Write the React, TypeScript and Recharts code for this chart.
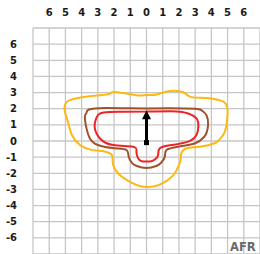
import { ComposedChart, Line, Scatter, XAxis, YAxis, CartesianGrid } from 'recharts';

type Pt = { x: number; y: number };

const TICKS = [-7, -6, -5, -4, -3, -2, -1, 0, 1, 2, 3, 4, 5, 6, 7];

// outer contour (yellow)
const outerCurve: Pt[] = [
  { x: 0.2, y: 2.85 }, { x: 0.7, y: 2.9 }, { x: 1.44, y: 3.1 }, { x: 2.26, y: 3.02 },
  { x: 2.67, y: 2.75 }, { x: 3.3, y: 2.68 }, { x: 4.0, y: 2.63 }, { x: 4.6, y: 2.5 },
  { x: 4.9, y: 2.3 }, { x: 5.0, y: 1.9 }, { x: 4.95, y: 1.1 }, { x: 4.75, y: 0.4 },
  { x: 4.45, y: 0.05 }, { x: 4.2, y: -0.14 }, { x: 3.3, y: -0.35 }, { x: 2.5, y: -0.45 },
  { x: 2.15, y: -0.75 }, { x: 2.1, y: -1.2 }, { x: 1.95, y: -1.6 }, { x: 1.75, y: -2.0 },
  { x: 1.4, y: -2.35 }, { x: 1.03, y: -2.6 }, { x: 0.5, y: -2.8 }, { x: -0.3, y: -2.82 },
  { x: -0.9, y: -2.6 }, { x: -1.4, y: -2.3 }, { x: -1.8, y: -1.95 }, { x: -2.05, y: -1.5 },
  { x: -2.1, y: -1.0 }, { x: -2.2, y: -0.8 }, { x: -2.6, y: -0.65 }, { x: -3.4, y: -0.55 },
  { x: -4.1, y: -0.25 }, { x: -4.6, y: 0.37 }, { x: -4.85, y: 1.2 }, { x: -5.05, y: 1.9 },
  { x: -5.0, y: 2.3 }, { x: -4.73, y: 2.53 }, { x: -3.9, y: 2.73 }, { x: -2.88, y: 2.84 },
  { x: -2.26, y: 2.94 }, { x: -1.96, y: 3.04 }, { x: -1.0, y: 2.9 }, { x: -0.4, y: 2.82 },
  { x: 0.2, y: 2.85 },
];

// middle contour (brown)
const middleCurve: Pt[] = [
  { x: 0, y: 2.02 }, { x: 1.5, y: 2.03 }, { x: 3.0, y: 2.0 }, { x: 3.4, y: 1.9 },
  { x: 3.7, y: 1.6 }, { x: 3.8, y: 1.0 }, { x: 3.7, y: 0.5 }, { x: 3.55, y: 0.25 },
  { x: 3.0, y: -0.14 }, { x: 1.95, y: -0.35 }, { x: 1.23, y: -0.56 }, { x: 1.13, y: -0.97 },
  { x: 0.9, y: -1.35 }, { x: 0.6, y: -1.55 }, { x: 0.0, y: -1.67 }, { x: -0.6, y: -1.55 },
  { x: -0.9, y: -1.35 }, { x: -1.1, y: -0.97 }, { x: -1.23, y: -0.56 }, { x: -1.96, y: -0.45 },
  { x: -3.0, y: -0.25 }, { x: -3.5, y: 0.17 }, { x: -3.7, y: 0.78 }, { x: -3.8, y: 1.5 },
  { x: -3.7, y: 1.75 }, { x: -3.55, y: 1.95 }, { x: -2.57, y: 2.05 }, { x: -1.0, y: 2.03 },
  { x: 0, y: 2.02 },
];

// inner contour (red)
const innerCurve: Pt[] = [
  { x: 0, y: 1.82 }, { x: 1.5, y: 1.85 }, { x: 2.2, y: 1.8 }, { x: 2.57, y: 1.7 },
  { x: 3.08, y: 1.4 }, { x: 3.2, y: 0.88 }, { x: 3.08, y: 0.37 }, { x: 2.57, y: -0.04 },
  { x: 1.54, y: -0.25 }, { x: 0.82, y: -0.45 }, { x: 0.72, y: -0.86 }, { x: 0.55, y: -1.12 },
  { x: 0.3, y: -1.25 }, { x: 0.0, y: -1.27 }, { x: -0.3, y: -1.25 }, { x: -0.52, y: -1.07 },
  { x: -0.62, y: -0.66 }, { x: -0.83, y: -0.35 }, { x: -2.06, y: -0.25 }, { x: -2.88, y: 0.17 },
  { x: -3.2, y: 0.88 }, { x: -3.1, y: 1.4 }, { x: -2.88, y: 1.7 }, { x: -2.26, y: 1.8 },
  { x: -1.5, y: 1.81 }, { x: 0, y: 1.82 },
];

// arrow
const arrowStem: Pt[] = [{ x: 0, y: -0.1 }, { x: 0, y: 1.5 }];
const arrowTip: Pt[] = [{ x: 0, y: 1.9 }];
const arrowBase: Pt[] = [{ x: 0, y: -0.1 }];

const axisFont = { fontSize: 10, fontFamily: 'DejaVu Sans', fontWeight: 600, fill: '#1a1a1a' };

function ArrowHead(props: any) {
  const { cx, cy } = props;
  return <path d={`M${cx},${cy} L${cx - 4.5},${cy + 9} L${cx + 4.5},${cy + 9} Z`} fill="#000" />;
}

function BaseSquare(props: any) {
  const { cx, cy } = props;
  return <rect x={cx - 2.5} y={cy - 2.5} width={5} height={5} fill="#000" />;
}

export default function App() {
  return (
    <div style={{ position: 'absolute', left: 0, top: 0, width: 260, height: 254, background: '#fff', overflow: 'hidden' }}>
      <ComposedChart width={260} height={254} margin={{ top: 0, right: 0, bottom: 0, left: 0 }}>
        <CartesianGrid stroke="#c6c6c6" strokeWidth={1.3} />
        <XAxis
          type="number"
          dataKey="x"
          orientation="top"
          domain={[-7, 7]}
          ticks={TICKS}
          allowDataOverflow
          height={28}
          axisLine={false}
          tickLine={false}
          tickSize={0}
          tickMargin={12}
          tick={axisFont}
          tickFormatter={(v: number) => (Math.abs(v) === 7 ? '' : String(Math.abs(v)))}
          interval={0}
        />
        <YAxis
          type="number"
          dataKey="y"
          domain={[-7, 7]}
          ticks={TICKS}
          allowDataOverflow
          width={33}
          axisLine={false}
          tickLine={false}
          tickSize={0}
          tickMargin={16}
          tick={axisFont}
          tickFormatter={(v: number) => (Math.abs(v) === 7 ? '' : String(v))}
          interval={0}
        />
        <Line data={outerCurve} dataKey="y" type="natural" stroke="#fdb813" strokeWidth={2} dot={false} isAnimationActive={false} />
        <Line data={middleCurve} dataKey="y" type="natural" stroke="#a0522d" strokeWidth={2} dot={false} isAnimationActive={false} />
        <Line data={innerCurve} dataKey="y" type="natural" stroke="#ee2424" strokeWidth={2} dot={false} isAnimationActive={false} />
        <Line data={arrowStem} dataKey="y" type="linear" stroke="#000" strokeWidth={3} dot={false} isAnimationActive={false} />
        <Scatter data={arrowTip} dataKey="y" shape={ArrowHead} isAnimationActive={false} />
        <Scatter data={arrowBase} dataKey="y" shape={BaseSquare} isAnimationActive={false} />
      </ComposedChart>
      <div
        style={{
          position: 'absolute',
          left: 230,
          top: 240,
          fontFamily: 'DejaVu Sans',
          fontWeight: 700,
          fontSize: 11.5,
          color: '#6a6a6a',
          lineHeight: '14px',
        }}
      >
        AFR
      </div>
    </div>
  );
}
